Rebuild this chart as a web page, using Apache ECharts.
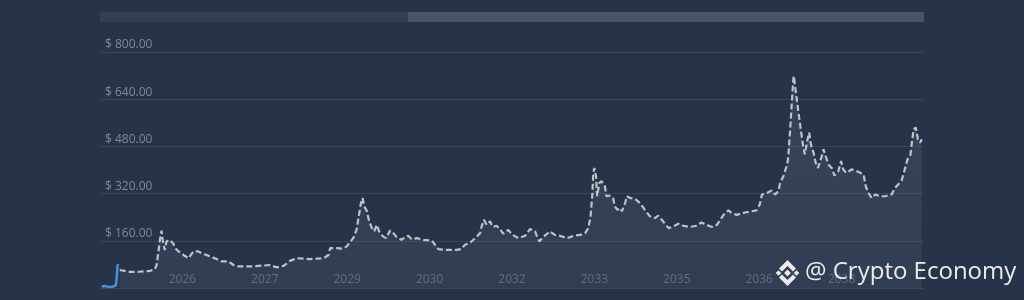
<!DOCTYPE html>
<html>
<head>
<meta charset="utf-8">
<script src="https://cdn.jsdelivr.net/npm/echarts@6/dist/echarts.min.js"></script>
<style>
html,body{margin:0;padding:0;background:#273349;}
#chart{width:1024px;height:300px;}
</style>
</head>
<body>
<div id="chart"></div>
<script>
// Historical price (decimal years, USD)
const historyYears = [2024.53, 2024.59, 2024.68, 2024.74, 2024.79, 2024.80, 2024.82, 2024.83];
const historyPrices = [5, 7, 3, 5, 10, 27, 75, 82];

// Forecast price (decimal years, USD)
const forecastYears = [
  2024.86, 2025.02, 2025.20, 2025.41, 2025.50, 2025.53, 2025.56, 2025.59, 2025.62, 2025.65,
  2025.68, 2025.71, 2025.77, 2025.83, 2025.87, 2025.93, 2025.96, 2026.02, 2026.11, 2026.20,
  2026.29, 2026.35, 2026.44, 2026.50, 2026.59, 2026.72, 2026.84, 2026.93, 2027.02, 2027.23,
  2027.47, 2027.59, 2027.72, 2027.84, 2027.96, 2028.08, 2028.32, 2028.57, 2028.66, 2028.69,
  2028.81, 2028.93, 2028.99, 2029.11, 2029.17, 2029.20, 2029.25, 2029.28, 2029.31, 2029.36,
  2029.40, 2029.45, 2029.49, 2029.54, 2029.58, 2029.65, 2029.71, 2029.78, 2029.84, 2029.90,
  2029.99, 2030.05, 2030.11, 2030.17, 2030.27, 2030.39, 2030.54, 2030.60, 2030.66, 2030.81,
  2030.99, 2031.08, 2031.14, 2031.24, 2031.33, 2031.42, 2031.45, 2031.49, 2031.54, 2031.60,
  2031.65, 2031.72, 2031.78, 2031.84, 2031.93, 2032.01, 2032.12, 2032.24, 2032.33, 2032.42,
  2032.46, 2032.50, 2032.57, 2032.69, 2032.78, 2032.87, 2033.00, 2033.12, 2033.24, 2033.33,
  2033.39, 2033.43, 2033.46, 2033.48, 2033.50, 2033.53, 2033.55, 2033.59, 2033.63, 2033.69,
  2033.72, 2033.78, 2033.84, 2033.87, 2033.92, 2033.97, 2034.00, 2034.06, 2034.09, 2034.15,
  2034.24, 2034.33, 2034.42, 2034.51, 2034.60, 2034.66, 2034.75, 2034.85, 2034.94, 2035.03,
  2035.12, 2035.24, 2035.36, 2035.45, 2035.54, 2035.64, 2035.73, 2035.79, 2035.85, 2035.94,
  2036.00, 2036.09, 2036.24, 2036.45, 2036.51, 2036.55, 2036.64, 2036.73, 2036.79, 2036.85,
  2036.88, 2036.94, 2036.98, 2037.01, 2037.03, 2037.06, 2037.09, 2037.12, 2037.13, 2037.15,
  2037.20, 2037.24, 2037.30, 2037.33, 2037.38, 2037.41, 2037.44, 2037.49, 2037.53, 2037.57,
  2037.63, 2037.67, 2037.73, 2037.76, 2037.82, 2037.87, 2037.94, 2037.99, 2038.03, 2038.09,
  2038.18, 2038.28, 2038.40, 2038.44, 2038.49, 2038.55, 2038.61, 2038.70, 2038.79, 2038.91,
  2038.97, 2039.03, 2039.09, 2039.15, 2039.20, 2039.25, 2039.28, 2039.31, 2039.35, 2039.39,
  2039.43, 2039.46
];
const forecastPrices = [
  61, 55, 55, 58, 64, 78, 118, 163, 194, 152,
  129, 158, 163, 152, 135, 124, 129, 112, 101, 124,
  124, 118, 112, 107, 101, 90, 90, 78, 73, 73,
  76, 78, 70, 75, 92, 101, 98, 101, 112, 135,
  135, 133, 141, 169, 197, 231, 288, 305, 277, 260,
  226, 203, 192, 214, 192, 175, 169, 195, 186, 173,
  163, 173, 177, 166, 169, 163, 161, 146, 132, 129,
  129, 132, 146, 154, 169, 186, 211, 231, 214, 226,
  207, 211, 200, 184, 197, 180, 169, 177, 200, 192,
  173, 158, 173, 192, 180, 177, 169, 177, 180, 186,
  203, 243, 311, 390, 407, 379, 311, 356, 362, 345,
  311, 313, 305, 277, 265, 271, 260, 288, 311, 305,
  302, 288, 265, 243, 237, 245, 226, 203, 209, 218,
  211, 207, 211, 222, 214, 207, 214, 231, 248, 263,
  254, 248, 256, 263, 283, 317, 322, 331, 317, 328,
  356, 379, 402, 419, 447, 527, 617, 705, 719, 690,
  617, 560, 481, 453, 504, 527, 487, 458, 424, 407,
  441, 470, 436, 419, 407, 381, 396, 430, 402, 390,
  402, 396, 385, 345, 322, 305, 317, 311, 311, 317,
  339, 351, 362, 402, 436, 447, 493, 538, 544, 504,
  493, 504
];

// Axis settings
const startYear = 2024.5;
const yTicks = [0, 160, 320, 480, 640, 800];

const toMonths = y => (y - startYear) * 12;
const histData = historyYears.map((y, i) => [toMonths(y), historyPrices[i]]);
const fcData = forecastYears.map((y, i) => [toMonths(y), forecastPrices[i]]);

const chart = echarts.init(document.getElementById('chart'), null, {renderer: 'canvas'});

const logoColor = '#ececec';
const cx = 787.5, cy = 273;
function diamond(x, y, r) {
  return {type: 'polygon', shape: {points: [[x, y - r], [x + r, y], [x, y + r], [x - r, y]]}, style: {fill: logoColor}, z: 100};
}

chart.setOption({
  backgroundColor: '#273349',
  animation: false,
  grid: {left: 100, right: 100, top: 52, bottom: 12},
  xAxis: {
    type: 'value',
    min: 0, max: 180, interval: 18,
    axisLine: {show: false},
    axisTick: {show: false},
    splitLine: {show: false},
    axisLabel: {
      inside: true, margin: 2,
      showMinLabel: false, showMaxLabel: false,
      color: '#5e6a80', fontSize: 12, fontFamily: 'Open Sans',
      formatter: v => String(Math.floor(startYear + v / 12 + 1e-9))
    }
  },
  yAxis: {
    type: 'value',
    min: yTicks[0], max: yTicks[yTicks.length - 1], interval: 160,
    axisLine: {show: false},
    axisTick: {show: false},
    splitLine: {lineStyle: {color: '#3b465a', width: 1}},
    axisLabel: {
      inside: true, margin: 5,
      showMinLabel: false,
      verticalAlign: 'bottom',
      padding: [0, 0, 1, 0],
      color: '#7d899e', fontSize: 12, fontFamily: 'Open Sans',
      formatter: v => '$ ' + v.toFixed(2)
    }
  },
  series: [
    {
      type: 'line', data: fcData, symbol: 'none', smooth: false,
      lineStyle: {color: '#bfc2c7', width: 2.2, type: [6, 3]},
      areaStyle: {
        color: new echarts.graphic.LinearGradient(0, 0, 0, 1, [
          {offset: 0, color: 'rgba(120,132,150,0.30)'},
          {offset: 1, color: 'rgba(120,132,150,0.18)'}
        ])
      },
      z: 3
    },
    {
      type: 'line', data: histData, symbol: 'none',
      lineStyle: {color: '#4a90d9', width: 2.5},
      z: 4
    }
  ],
  graphic: [
    {type: 'rect', shape: {x: 100, y: 12, width: 308, height: 10}, style: {fill: '#343f54'}, z: 10},
    {type: 'rect', shape: {x: 408, y: 12, width: 516, height: 10}, style: {fill: '#4a5468'}, z: 10},
    diamond(cx, cy, 3.4),
    diamond(cx - 9, cy, 2.8),
    diamond(cx + 9, cy, 2.8),
    {type: 'polygon', shape: {points: [[cx, cy - 13], [cx + 8.5, cy - 4.5], [cx + 5.5, cy - 1.5], [cx, cy - 7], [cx - 5.5, cy - 1.5], [cx - 8.5, cy - 4.5]]}, style: {fill: logoColor}, z: 100},
    {type: 'polygon', shape: {points: [[cx, cy + 13], [cx + 8.5, cy + 4.5], [cx + 5.5, cy + 1.5], [cx, cy + 7], [cx - 5.5, cy + 1.5], [cx - 8.5, cy + 4.5]]}, style: {fill: logoColor}, z: 100},
    {type: 'text', x: 805, y: 272, style: {text: '@ Crypto Economy', fill: logoColor, font: '24px "Open Sans"', textVerticalAlign: 'middle', textAlign: 'left', shadowColor: 'rgba(0,0,0,0.4)', shadowBlur: 3}, z: 100}
  ]
});
</script>
</body>
</html>
